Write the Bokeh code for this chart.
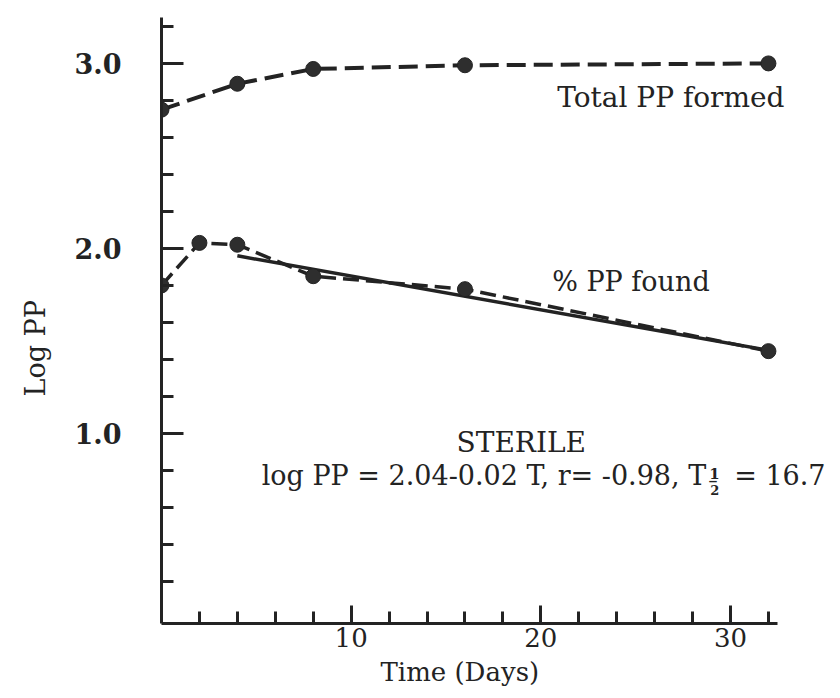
from bokeh.plotting import figure
from bokeh.models import Label, Title, FixedTicker, PrintfTickFormatter
from bokeh.embed import file_html
from bokeh.resources import INLINE

# ---- data ----
total_days = [0, 4, 8, 16, 32]
total_pp = [2.75, 2.89, 2.97, 2.99, 3.00]

found_days = [0, 2, 4, 8, 16, 32]
found_pp = [1.80, 2.03, 2.02, 1.85, 1.78, 1.445]

fit_days = [4, 32]
fit_pp = [1.96, 1.45]

x_major = [10, 20, 30]
x_minor = [2, 4, 6, 8, 12, 14, 16, 18, 22, 24, 26, 28, 32]
y_major = [1.0, 2.0, 3.0]
y_minor = [0.2, 0.4, 0.6, 0.8, 1.2, 1.4, 1.6, 1.8, 2.2, 2.4, 2.6, 2.8, 3.2]

label_total = "Total PP formed"
label_found = "% PP found"
label_sterile = "STERILE"
eq_main = "log PP = 2.04-0.02 T, r= -0.98, T"
eq_tail = "= 16.7"
x_title = "Time (Days)"
y_title = "Log PP"

INK = "#232323"
SERIF = "DejaVu Serif"

p = figure(width=840, height=698, x_range=(0, 35.8), y_range=(-0.027, 3.34),
           output_backend="svg", toolbar_location=None,
           min_border_left=157, min_border_right=0, min_border_top=0,
           min_border_bottom=75)
p.grid.visible = False
p.outline_line_color = None
p.background_fill_color = "white"
p.border_fill_color = "white"

# axes
xa = p.xaxis[0]
xa.ticker = FixedTicker(ticks=x_major, minor_ticks=x_minor)
xa.bounds = (0, 32.5)
xa.axis_line_width = 3
xa.axis_line_color = INK
xa.major_tick_line_width = 3
xa.minor_tick_line_width = 3
xa.major_tick_line_color = INK
xa.minor_tick_line_color = INK
xa.major_tick_in = 18
xa.major_tick_out = 0
xa.minor_tick_in = 12
xa.minor_tick_out = 0
xa.major_label_standoff = 4
xa.major_label_text_font = SERIF
xa.major_label_text_font_size = "26px"
xa.major_label_text_color = INK

ya = p.yaxis[0]
ya.ticker = FixedTicker(ticks=y_major, minor_ticks=y_minor)
ya.bounds = (-0.027, 3.25)
ya.formatter = PrintfTickFormatter(format="%.1f")
ya.axis_line_width = 3
ya.axis_line_color = INK
ya.major_tick_line_width = 3
ya.minor_tick_line_width = 3
ya.major_tick_line_color = INK
ya.minor_tick_line_color = INK
ya.major_tick_in = 22
ya.major_tick_out = 0
ya.minor_tick_in = 12
ya.minor_tick_out = 0
ya.major_label_standoff = 40
ya.major_label_text_font = SERIF
ya.major_label_text_font_style = "bold"
ya.major_label_text_font_size = "27px"
ya.major_label_text_color = INK

# axis titles (side panels, so they are not clipped)
p.add_layout(Title(text=x_title, align="left", offset=219, standoff=14,
                   vertical_align="top", text_font=SERIF, text_font_size="26px",
                   text_font_style="normal", text_color=INK), "below")
p.add_layout(Title(text=y_title, align="left", offset=227, standoff=38,
                   vertical_align="top", text_font=SERIF, text_font_size="27px",
                   text_font_style="normal", text_color=INK), "left")

# lines
p.line(total_days, total_pp, line_color=INK, line_width=4, line_dash="19 8")
p.line(found_days, found_pp, line_color=INK, line_width=3.5, line_dash="16 7")
p.line(fit_days, fit_pp, line_color=INK, line_width=3.5)

# markers
p.scatter(total_days, total_pp, size=15, fill_color="#2e2e2e", line_color=INK, line_width=1)
p.scatter(found_days, found_pp, size=15, fill_color="#2e2e2e", line_color=INK, line_width=1)

def lab(text, x, y, size="26px", align="left", baseline="alphabetic", style="normal", **kw):
    p.add_layout(Label(x=x, y=y, text=text, text_font=SERIF, text_font_size=size,
                       text_align=align, text_baseline=baseline, text_color=INK,
                       text_font_style=style, **kw))

EQ_X = 28.72
lab(label_total, 20.86, 2.816, size="28px")
lab(label_found, 20.6, 1.822, size="27px")
lab(label_sterile, 18.97, 0.951, size="28px", align="center")
lab(eq_main, EQ_X, 0.773, size="27px", align="right")
lab("1", EQ_X, 0.783, size="15px", style="bold", x_offset=3)
lab("_", EQ_X, 0.783, size="15px", style="bold", x_offset=3)
lab("2", EQ_X, 0.697, size="13px", style="bold", x_offset=4)
lab(eq_tail, EQ_X, 0.773, size="27px", x_offset=28)

open("out.html", "w").write(file_html(p, INLINE))
